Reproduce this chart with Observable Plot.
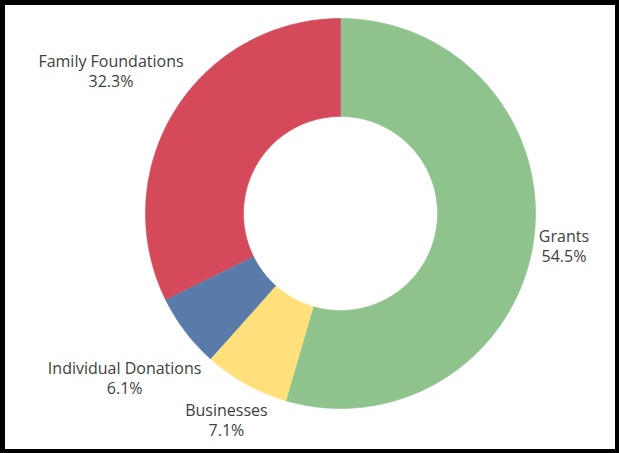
<!DOCTYPE html>
<html>
<head>
<meta charset="utf-8">
<script src="https://cdn.jsdelivr.net/npm/d3@7"></script>
<script src="https://cdn.jsdelivr.net/npm/@observablehq/plot@0.6"></script>
<style>
  html, body { margin: 0; padding: 0; background: #fff; }
  #chart { width: 619px; height: 453px; overflow: hidden; }
</style>
</head>
<body>
<div id="chart"></div>
<script>
// ---- data ----
const categories = ["Grants", "Businesses", "Individual Donations", "Family Foundations"];
const shares = [54.5, 7.1, 6.1, 32.3];
const shareLabels = ["54.5%", "7.1%", "6.1%", "32.3%"];
const colors = ["#8fc38d", "#ffe07a", "#587baa", "#d44a5a"];

// ---- layout ----
const W = 619, H = 453;
const cx = 340, cy = 213;     // donut centre in page pixels
const R = 195, r0 = 97;       // outer / inner radius
const labelGap = 3;
const fontSize = 16, lineH = 20;
const font = `${fontSize}px "Open Sans"`;

const total = d3.sum(shares);
let acc = 0;
const slices = categories.map((c, i) => {
  const a0 = acc / total * 2 * Math.PI;
  acc += shares[i];
  const a1 = acc / total * 2 * Math.PI;
  return {category: c, a0, a1, color: colors[i], label: shareLabels[i]};
});

// polygon outlines for each slice (outer arc then inner arc back)
const pts = [];
for (const s of slices) {
  const n = Math.max(8, Math.ceil((s.a1 - s.a0) / (Math.PI / 180)));
  for (let k = 0; k <= n; k++) {
    const a = s.a0 + (s.a1 - s.a0) * k / n;
    pts.push({category: s.category, x: R * Math.sin(a), y: -R * Math.cos(a)});
  }
  for (let k = n; k >= 0; k--) {
    const a = s.a0 + (s.a1 - s.a0) * k / n;
    pts.push({category: s.category, x: r0 * Math.sin(a), y: -r0 * Math.cos(a)});
  }
}

// label positions: box placed just outside the ring along the mid-angle
const ctx = document.createElement("canvas").getContext("2d");
ctx.font = font;
const labels = slices.map(s => {
  const am = (s.a0 + s.a1) / 2;
  const dx = Math.sin(am), dy = -Math.cos(am);
  const w = Math.max(ctx.measureText(s.category).width, ctx.measureText(s.label).width);
  const h = 2 * lineH;
  const support = Math.abs(dx) * w / 2 + Math.abs(dy) * h / 2;
  const d = R + labelGap + support;
  return {text: s.category + "\n" + s.label, x: d * dx, y: d * dy};
});

const chart = Plot.plot({
  width: W,
  height: H,
  margin: 0,
  style: {background: "#fff", overflow: "hidden"},
  x: {domain: [-cx, W - cx], range: [0, W], axis: null},
  y: {domain: [-cy, H - cy], range: [0, H], axis: null},
  color: {domain: categories, range: colors},
  marks: [
    Plot.line(pts, {x: "x", y: "y", z: "category", fill: "category", stroke: "category", strokeWidth: 0.6, curve: "linear"}),
    Plot.text(labels, {
      x: "x", y: "y", text: "text",
      fontFamily: "Open Sans", fontSize, lineHeight: lineH / fontSize,
      fill: "#404040", textAnchor: "middle", lineAnchor: "middle"
    }),
    Plot.frame({stroke: "#000", strokeWidth: 9})
  ]
});
document.getElementById("chart").appendChild(chart);
</script>
</body>
</html>
